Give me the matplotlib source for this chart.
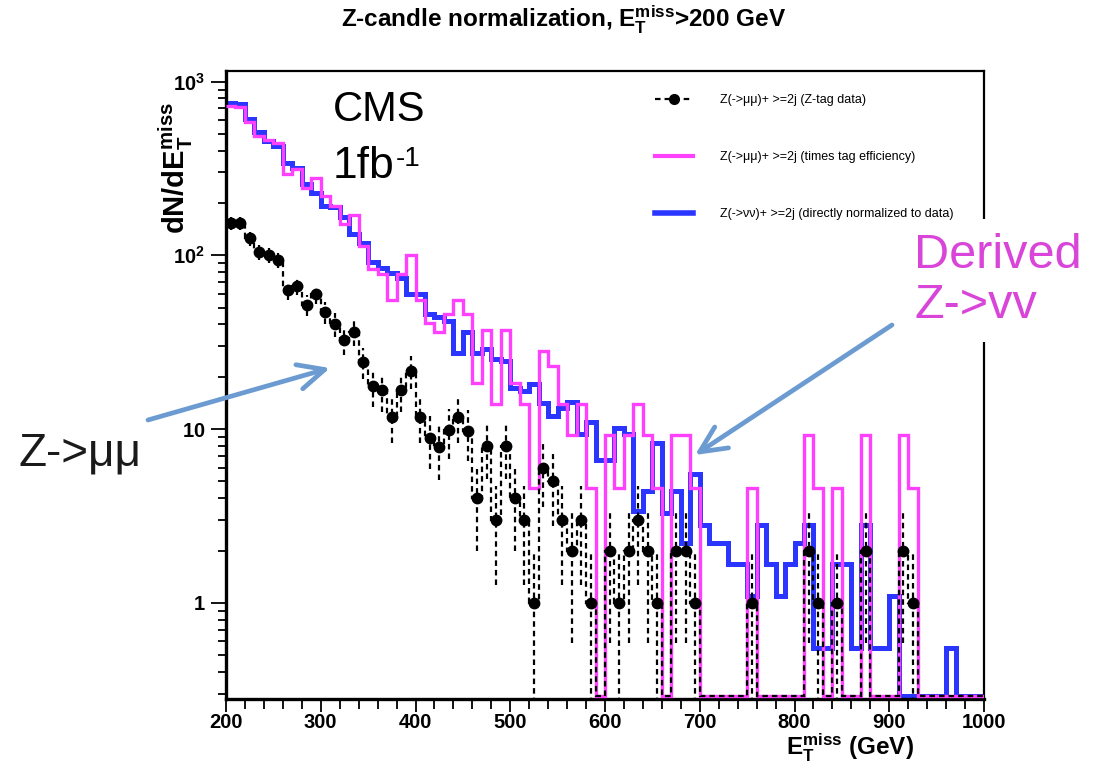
import matplotlib
matplotlib.use('Agg')
import matplotlib.pyplot as plt
from matplotlib.lines import Line2D
from matplotlib.ticker import FixedLocator, MultipleLocator, NullFormatter
import numpy as np

# bins: 10 GeV from 200 to 1000
edges = np.arange(200, 1001, 10)
centers = edges[:-1] + 5

# Z->mumu + >=2j, Z-tag data (black points)
zmumu_data = [153, 153, 125, 104, 100, 94, 63, 67, 52, 60,
              47, 40, 32.5, 36, 24.4, 17.7, 16.7, 11.7, 16.7, 21.6,
              11.7, 8.9, 7.9, 9.9, 11.7, 9.7, 4, 8, 3, 8,
              4, 3, 1, 6, 5, 3, 2, 3, 1, 0,
              2, 1, 2, 3, 2, 1, 0, 2, 2, 1,
              0, 0, 0, 0, 0, 1, 0, 0, 0, 0,
              0, 2, 1, 0, 1, 0, 0, 2, 0, 0,
              0, 2, 1, 0, 0, 0, 0, 0, 0, 0]

# Z->mumu times tag efficiency (magenta)
zmumu_eff = [724, 717, 586, 487, 461, 441, 293, 313, 245, 280,
             220, 192, 152, 170, 113, 83, 78, 55, 78, 100,
             55, 41, 36, 46, 55, 46, 18.5, 37, 14, 37,
             18.5, 14, 4.6, 28, 23, 14, 9.2, 14, 4.6, 0,
             9.2, 4.6, 9.2, 14, 9.2, 4.6, 0, 9.2, 9.2, 4.6,
             0, 0, 0, 0, 0, 4.6, 0, 0, 0, 0,
             0, 9.2, 4.6, 0, 4.6, 0, 0, 9.2, 0, 0,
             0, 9.2, 4.6, 0, 0, 0, 0, 0, 0, 0]

# Z->nunu directly normalized to data (blue)
znunu = [750, 740, 607, 515, 455, 426, 341, 320, 259, 229,
         191, 190, 166, 133, 118, 91, 85, 79, 74, 60,
         60, 46, 44, 42, 27.5, 36, 27.3, 28.8, 25.3, 24.8,
         17.3, 16.6, 18.2, 14.2, 11.9, 13.3, 14.3, 9.4, 11.0, 6.6,
         6.6, 10.2, 9.4, 3.4, 4.4, 8.3, 3.3, 4.4, 2.2, 5.5,
         2.8, 2.2, 2.2, 1.67, 1.67, 1.1, 2.8, 1.67, 1.1, 1.67,
         2.2, 2.8, 0.55, 0.55, 1.67, 1.67, 0.55, 2.8, 0.55, 0.55,
         1.1, 0, 0, 0, 0, 0, 0.55, 0, 0, 0]

legend_labels = ['Z(->μμ)+ >=2j (Z-tag data)',
                 'Z(->μμ)+ >=2j (times tag efficiency)',
                 'Z(->νν)+ >=2j (directly normalized to data)']

ymin, ymax = 0.28, 1150
MAGENTA = '#ff40ff'
BLUE = '#2a35ff'
ARROW = '#6b9bd0'
DASH = (0, (2.5, 1.8))

plt.rcParams['font.family'] = ['Liberation Sans', 'DejaVu Sans']
plt.rcParams['mathtext.fontset'] = 'custom'
plt.rcParams['mathtext.rm'] = 'Liberation Sans'
plt.rcParams['mathtext.bf'] = 'Liberation Sans:bold'
plt.rcParams['mathtext.it'] = 'Liberation Sans:italic'

fig = plt.figure(figsize=(10.95, 7.65), dpi=100)
ax = fig.add_axes([226 / 1095, 1 - 699 / 765, 758 / 1095, 628 / 765])
ax.set_yscale('log')

floor = ymin * 1.035
data = np.array(zmumu_data, dtype=float)
eff = np.array(zmumu_eff, dtype=float)
nunu = np.array(znunu, dtype=float)

ax.stairs(np.where(nunu > 0, nunu, floor), edges, baseline=None, color=BLUE, lw=3.6, zorder=2)
ax.stairs(np.where(eff > 0, eff, floor), edges, baseline=None, color=MAGENTA, lw=2.4, zorder=3)
ax.stairs(np.where(data > 0, data, floor), edges, baseline=None, color='black', lw=1.6,
          linestyle=DASH, zorder=4)

nz = data > 0
err = np.sqrt(data[nz])
lo = np.maximum(data[nz] - err, ymin * 0.5)
hi = data[nz] + err
ax.vlines(centers[nz], lo, hi, colors='black', lw=1.6, linestyles=DASH, zorder=4)
ax.plot(centers[nz], data[nz], 'o', color='black', ms=7.5, zorder=5)

ax.set_xlim(200, 1000)
ax.set_ylim(ymin, ymax)

ax.xaxis.set_major_locator(MultipleLocator(100))
ax.xaxis.set_minor_locator(MultipleLocator(20))
ax.yaxis.set_major_locator(FixedLocator([1, 10, 100, 1000]))
ax.yaxis.set_minor_locator(FixedLocator([m * 10.0 ** d for d in range(-1, 4) for m in range(2, 10)]))
ax.yaxis.set_minor_formatter(NullFormatter())
ax.set_yticklabels([r'$\mathbf{1}$', r'$\mathbf{10}$', r'$\mathbf{10^{2}}$', r'$\mathbf{10^{3}}$'])
ax.set_xticks(range(200, 1001, 100))
ax.set_xticklabels([str(v) for v in range(200, 1001, 100)], fontweight='bold')

ax.tick_params(axis='both', which='both', direction='out', top=False, right=False,
               labelsize=14.5, width=1.3)
ax.tick_params(axis='x', which='major', length=9, pad=1)
ax.tick_params(axis='x', which='minor', length=7)
ax.tick_params(axis='y', which='major', length=11, pad=4)
ax.tick_params(axis='y', which='minor', length=6)
for side in ['left', 'bottom']:
    ax.spines[side].set_linewidth(2.4)
for side in ['top', 'right']:
    ax.spines[side].set_linewidth(1.6)

# legend
handles = [Line2D([], [], color='black', lw=1.6, linestyle=DASH, marker='o', ms=7),
           Line2D([], [], color=MAGENTA, lw=3),
           Line2D([], [], color=BLUE, lw=4)]
fig.legend(handles, legend_labels, loc='upper left',
           bbox_to_anchor=(655 / 1095, 1 - 94 / 765), frameon=False,
           fontsize=9, handlelength=3.0, handletextpad=2.2, labelspacing=3.6,
           borderpad=0, borderaxespad=0)

# texts
fig.text(564 / 1095, 1 - 20 / 765, r'Z-candle normalization, $\mathbf{E_{T}^{miss}}$>200 GeV',
         ha='center', va='center', fontsize=17.5, fontweight='bold')
fig.text(176 / 1095, 1 - 168 / 765, r'$\mathbf{dN/dE_{T}^{miss}}$', rotation=90,
         ha='center', va='center', fontsize=21)
fig.text(850 / 1095, 1 - 756 / 765, r'$\mathbf{E_{T}^{miss}}$ (GeV)',
         ha='center', va='baseline', fontsize=17.5, fontweight='bold')

fig.text(333 / 1095, 1 - 121 / 765, 'CMS', ha='left', va='baseline', fontsize=30)
t_fb = fig.text(333 / 1095, 1 - 178 / 765, '1fb', ha='left', va='baseline', fontsize=32)
ax.annotate('-1', xy=(1, 1), xycoords=t_fb, xytext=(1, 0), textcoords='offset points',
            ha='left', va='top', fontsize=20, annotation_clip=False)
fig.text(18 / 1095, 1 - 466 / 765, 'Z->μμ', ha='left', va='baseline', fontsize=33, color='#1a1a1a')
fig.text(914 / 1095, 1 - 318 / 765, 'Derived\nZ->vv', ha='left', va='baseline', fontsize=35,
         color='#d845d8', linespacing=1.15,
         bbox=dict(facecolor='white', edgecolor='none', pad=10))

# arrows
arrow_kw = dict(arrowstyle='->, head_length=1.9, head_width=0.9', color=ARROW, lw=3.4,
                mutation_scale=10, shrinkA=0, shrinkB=0)
ax.annotate('', xy=(330, 765 - 368), xytext=(148, 765 - 420),
            xycoords='figure pixels', textcoords='figure pixels',
            arrowprops=arrow_kw, annotation_clip=False, zorder=6)
ax.annotate('', xy=(695, 765 - 455), xytext=(892, 765 - 325),
            xycoords='figure pixels', textcoords='figure pixels',
            arrowprops=arrow_kw, annotation_clip=False, zorder=6)

fig.savefig('out.png', dpi=100)
